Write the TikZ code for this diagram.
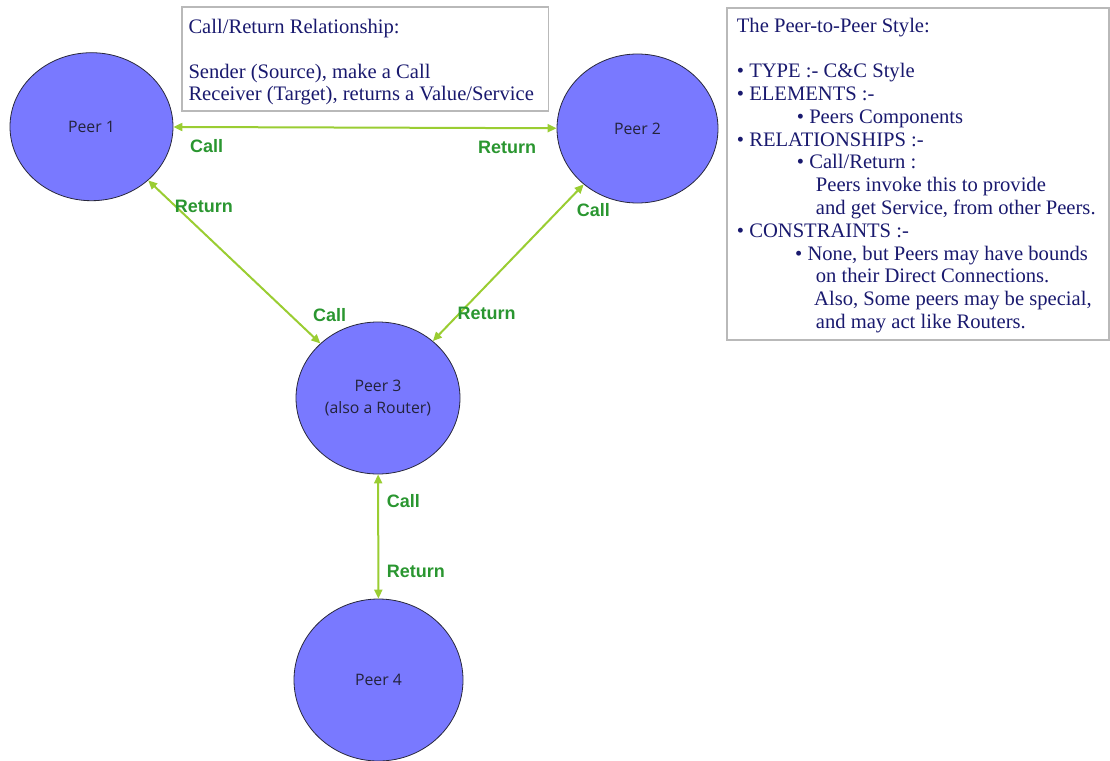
\documentclass[tikz,border=0pt]{standalone}
\usepackage{fontspec}
\setmainfont{Liberation Serif}
\newfontfamily\peerfont{Open Sans}
\newfontfamily\labelfont{Liberation Sans}
\usetikzlibrary{shapes.geometric,arrows.meta}
\definecolor{peerfill}{RGB}{121,121,255}
\definecolor{peerline}{RGB}{40,40,60}
\definecolor{peertext}{RGB}{35,35,60}
\definecolor{notetext}{RGB}{25,25,110}
\definecolor{noteframe}{RGB}{185,185,185}
\definecolor{linkline}{RGB}{154,205,50}
\definecolor{linktext}{RGB}{42,150,48}

\begin{document}
\begin{tikzpicture}[x=1pt,y=-1pt,
  peer/.style={ellipse, draw=peerline, line width=0.8pt, fill=peerfill, inner sep=0pt,
    text=peertext, font=\peerfont\fontsize{15.8}{22}\selectfont, align=center},
  link/.style={draw=linkline, line width=2pt,
    {Triangle[length=9pt,width=8pt]}-{Triangle[length=9pt,width=8pt]}},
  tag/.style={anchor=base west, inner sep=0pt, text=linktext,
    font=\labelfont\bfseries\fontsize{18}{20}\selectfont},
  noteframe/.style={draw=noteframe, line width=1.6pt},
  note/.style={anchor=base west, inner sep=0pt, text=notetext,
    font=\fontsize{20.6}{22.7}\selectfont}
]
\useasboundingbox (0,0) rectangle (1110,760);

% peers
\node[peer, minimum width=163pt, minimum height=148pt] (p1) at (91.5,126.7) {Peer 1};
\node[peer, minimum width=161pt, minimum height=149pt] (p2) at (637.5,128.5) {Peer 2};
\node[peer, minimum width=164pt, minimum height=152pt] (p3) at (378,398) {Peer 3\\(also a Router)};
\node[peer, minimum width=169pt, minimum height=162pt] (p4) at (378.5,680) {Peer 4};

% call/return connectors
\draw[link] (p1) -- (p2);
\draw[link] (p1) -- (p3);
\draw[link] (p2) -- (p3);
\draw[link] (p3) -- (p4);

% connector labels
\node[tag] (c12) at (190,152.3) {Call};
\node[tag] (r12) at (478,153) {Return};
\node[tag] (r13) at (174.7,212.7) {Return};
\node[tag] (c13) at (313,321.7) {Call};
\node[tag] (c23) at (576.7,216.7) {Call};
\node[tag] (r23) at (457.3,319.3) {Return};
\node[tag] (c34) at (386.7,507.7) {Call};
\node[tag] (r34) at (386.7,577.3) {Return};

% relationship note
\draw[noteframe] (181.7,7.3) rectangle (548.3,111);
\node[note] (a1) at (188.3,33.3) {Call/Return Relationship:};
\node[note] (a2) at (188.3,78) {Sender (Source), make a Call};
\node[note] (a3) at (188.3,100.5) {Receiver (Target), returns a Value/Service};

% style description note
\draw[noteframe] (726.7,8.3) rectangle (1109,340);
\node[note] (b0)  at (736.7,32.3)  {The Peer-to-Peer Style:};
\node[note] (b2)  at (736.7,77.8)  {• TYPE :- C\&C Style};
\node[note] (b3)  at (736.7,100.6) {• ELEMENTS :-};
\node[note] (b4)  at (796.7,123.4) {• Peers Components};
\node[note] (b5)  at (736.7,146.2) {• RELATIONSHIPS :-};
\node[note] (b6)  at (796.7,168.9) {• Call/Return :};
\node[note] (b7)  at (815.7,191.7) {Peers invoke this to provide};
\node[note] (b8)  at (815.7,214.5) {and get Service, from other Peers.};
\node[note] (b9)  at (736.7,237.2) {• CONSTRAINTS :-};
\node[note] (b10) at (795,260.0)   {• None, but Peers may have bounds};
\node[note] (b11) at (815.7,282.8) {on their Direct Connections.};
\node[note] (b12) at (814,305.5)   {Also, Some peers may be special,};
\node[note] (b13) at (815.7,328.3) {and may act like Routers.};
\end{tikzpicture}
\end{document}
